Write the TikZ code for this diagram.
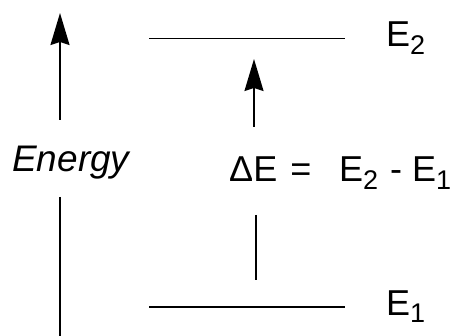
\documentclass[tikz,border=0pt]{standalone}
\usepackage{fontspec}
\setmainfont{Liberation Sans}
\usetikzlibrary{arrows.meta}
\newcommand\lowsub[1]{\raisebox{-7.5pt}{\fontsize{27}{27}\selectfont #1}}
\tikzset{
  lbl/.style={inner sep=0pt, anchor=base west, font=\fontsize{36}{36}\selectfont},
  level/.style={line width=1.4pt},
  shaft/.style={line width=1.6pt},
  uparrow/.style={shaft, -{Stealth[length=32pt 0, width=19pt 0, inset=3pt]}},
}
\begin{document}
\begin{tikzpicture}[x=1pt, y=-1pt]
\useasboundingbox (0,0) rectangle (454,336);
% energy axis
\coordinate (ea) at (60,120);
\coordinate (et) at (60,13);
\coordinate (eb1) at (60,197);
\coordinate (eb2) at (60,336);
\draw[uparrow] (ea) -- (et);
\draw[shaft] (eb1) -- (eb2);
\node[lbl, font=\fontsize{37}{37}\selectfont\itshape] (energy) at (12,172) {Energy};
% levels
\coordinate (l2a) at (149,38.7);
\coordinate (l2b) at (345,38.7);
\coordinate (l1a) at (149,307);
\coordinate (l1b) at (345,307);
\draw[level] (l2a) -- (l2b);
\draw[level] (l1a) -- (l1b);
\node[lbl] (e2) at (386,47) {E\lowsub{2}};
\node[lbl] (e1) at (386,315) {E\lowsub{1}};
% delta E arrow
\coordinate (da) at (254,127);
\coordinate (dt) at (254,59);
\coordinate (db1) at (256,215);
\coordinate (db2) at (256,280);
\draw[uparrow] (da) -- (dt);
\draw[shaft] (db1) -- (db2);
\node[lbl] (de) at (229,182) {ΔE\hspace{3pt} =};
\node[lbl] (diff) at (339,182) {E\lowsub{2}\hspace{2pt} - E\lowsub{1}};
\end{tikzpicture}
\end{document}
